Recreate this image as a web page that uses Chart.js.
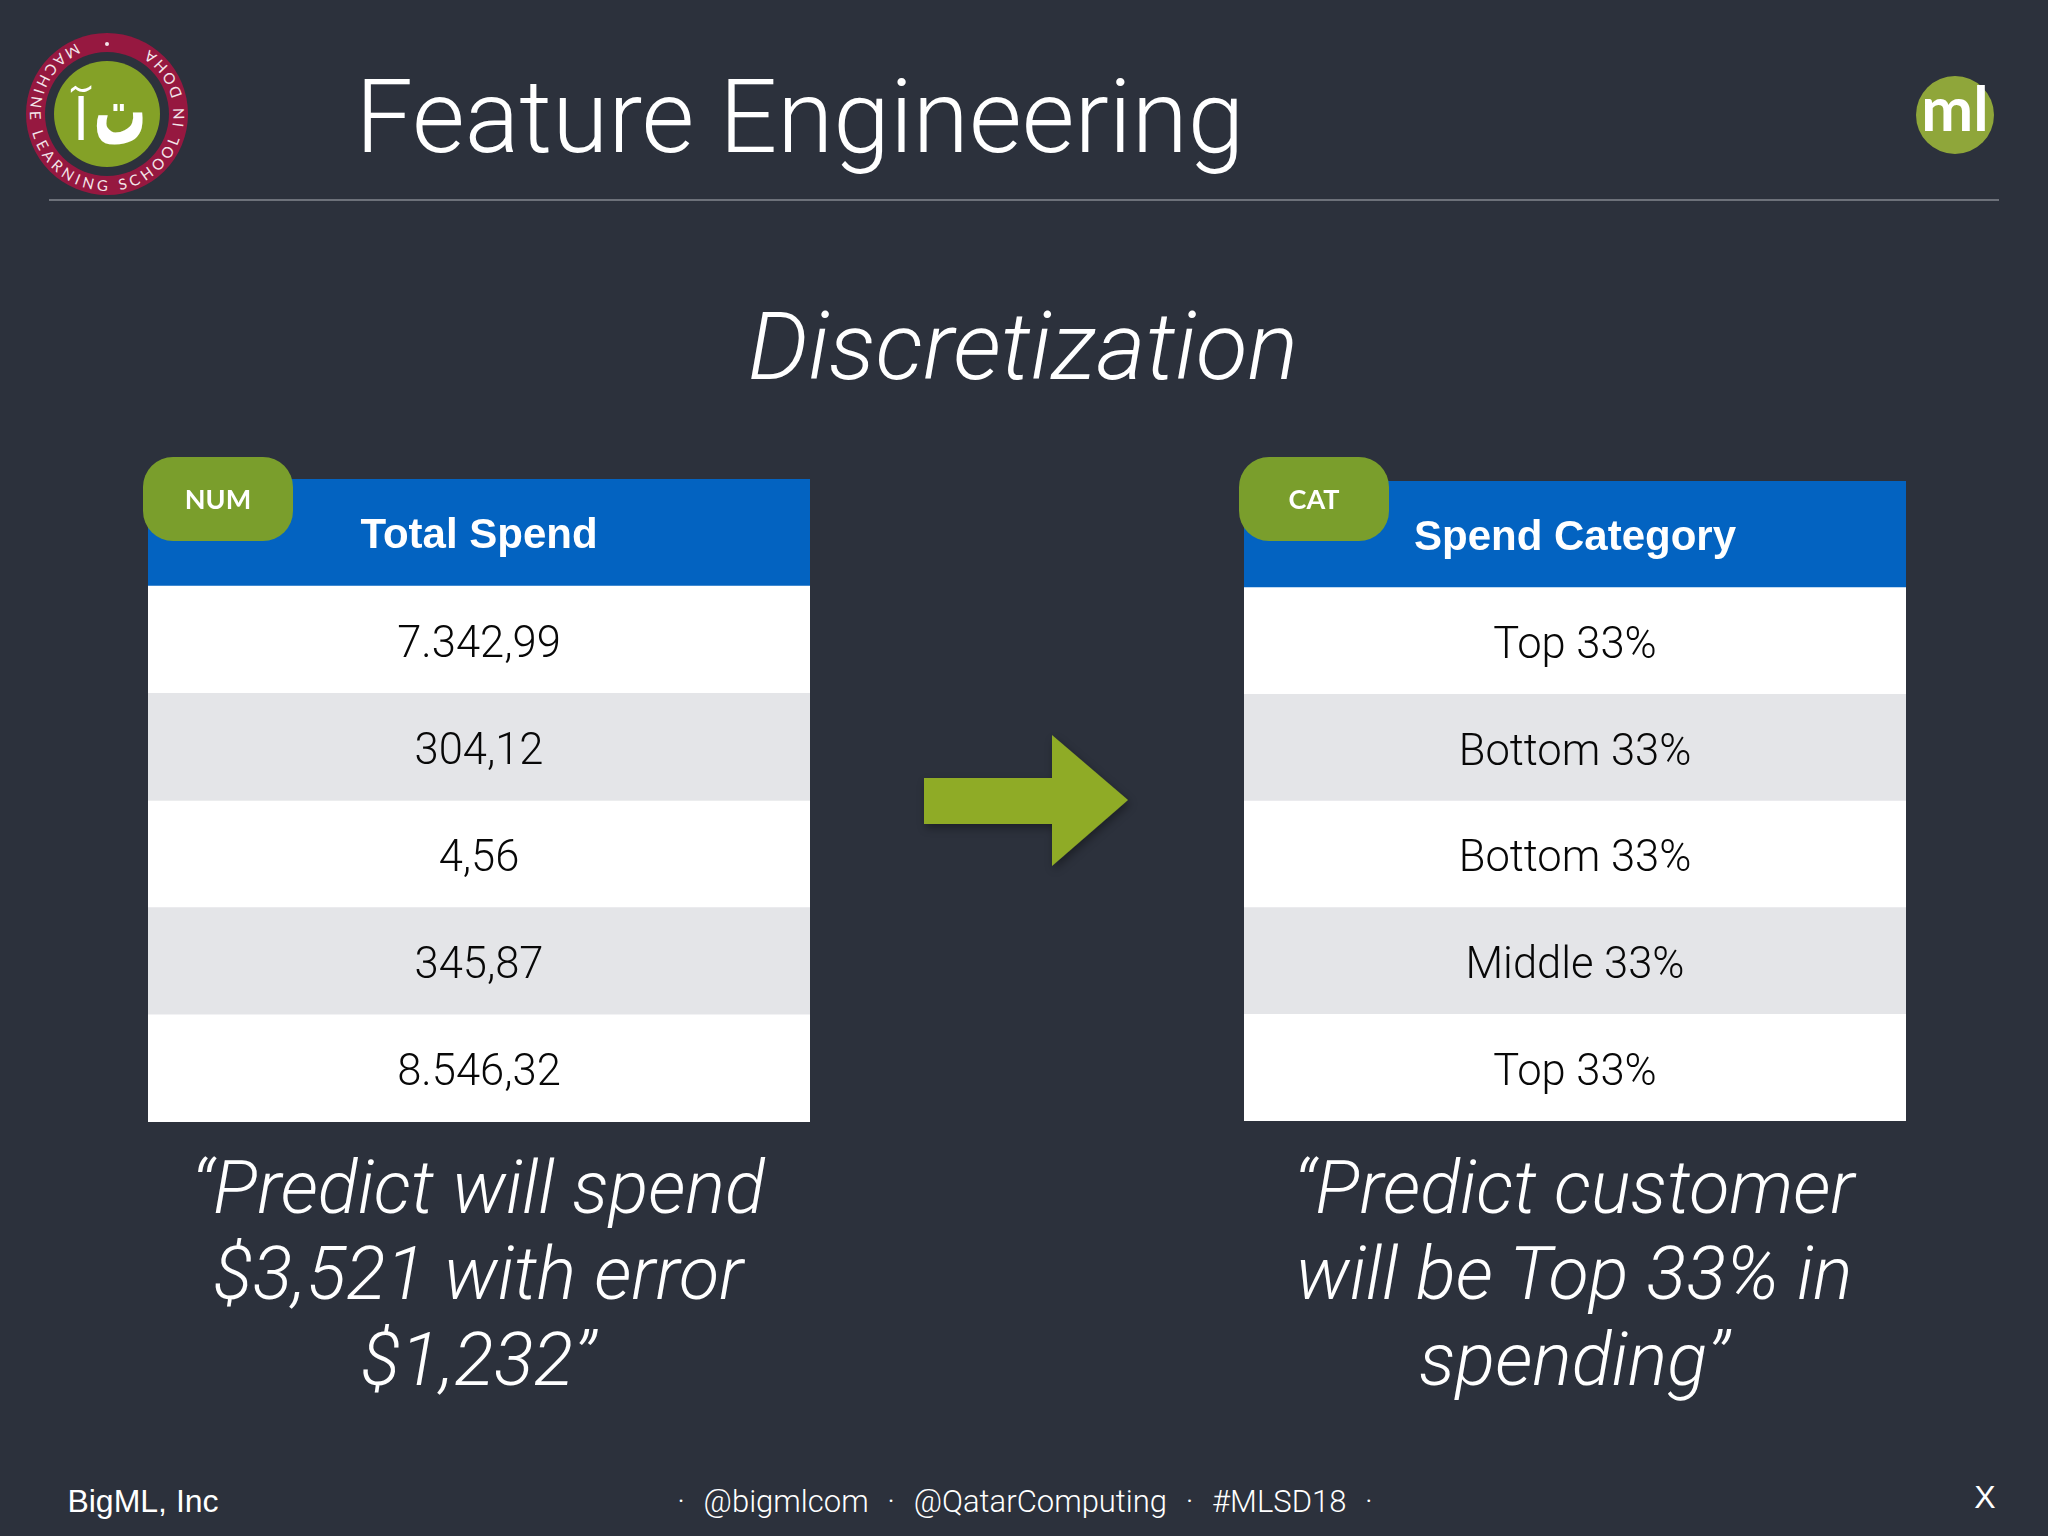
<!DOCTYPE html>
<html>
<head>
<meta charset="utf-8">
<title>Feature Engineering</title>
<script src="https://cdn.jsdelivr.net/npm/chart.js@4"></script>
<style>
html, body { margin: 0; padding: 0; width: 2048px; height: 1536px; overflow: hidden; background: #2c313c; }
.txt { position: absolute; color: #fff; white-space: nowrap; font-family: Roboto, "Liberation Sans", sans-serif; font-weight: 300; line-height: 1; }
.center { transform: translate(-50%, -50%); }
canvas { position: absolute; }
.rule { position: absolute; left: 49px; top: 199px; width: 1950px; height: 2px; background: #6d717a; }
.badge { position: absolute; width: 150px; height: 84px; top: 457px; border-radius: 30px; background: #7a9e2c; }
.badge span { position: absolute; left: 0; right: 0; top: 28px; text-align: center; color: #fff; font: 700 27px Lato, sans-serif; line-height: 1; }
svg { position: absolute; overflow: visible; }
.quote { font-style: italic; font-size: 74px; }
</style>
</head>
<body>

<svg style="left:0;top:0" width="220" height="230">
  <defs><path id="ring" d="M 107 37 A 77 77 0 1 0 107.01 37"></path></defs>
  <circle cx="107" cy="114" r="81" fill="#961840"></circle>
  <circle cx="107" cy="114" r="62" fill="#2c313c"></circle>
  <circle cx="107" cy="114" r="53" fill="#84a127"></circle>
  <text font-family="Lato, sans-serif" font-size="15" fill="#f3e6ea" letter-spacing="4.2">
    <textPath href="#ring" startOffset="32">MACHINE LEARNING SCHOOL IN DOHA</textPath>
  </text>
  <circle cx="107" cy="44" r="2" fill="#f3e6ea"></circle>
  <text x="81" y="140" text-anchor="middle" font-family="DejaVu Sans" font-size="58" fill="#fff">آ</text>
  <text transform="translate(120 144) scale(0.8 1.45)" text-anchor="middle" font-family="DejaVu Sans" font-weight="bold" font-size="66" fill="#fff">ت</text>
</svg>

<div class="txt center" style="left:800px;top:117px;font-size:102px">Feature Engineering</div>

<svg style="left:1900px;top:60px" width="110" height="110">
  <circle cx="55" cy="55" r="39" fill="#8fa63a"></circle>
  <text x="55" y="71" text-anchor="middle" font-family="Lato, sans-serif" font-weight="700" font-size="62" fill="#fff">ml</text>
</svg>

<div class="rule"></div>

<div class="txt center" style="left:1023px;top:346px;font-size:95px;font-style:italic">Discretization</div>

<canvas id="spendTable" width="662" height="643" style="left:148px;top:479px;width:662px;height:643px"></canvas>
<canvas id="categoryTable" width="662" height="640" style="left:1244px;top:481px;width:662px;height:640px"></canvas>

<div class="badge" style="left:143px"><span>NUM</span></div>
<div class="badge" style="left:1239px"><span>CAT</span></div>

<svg style="left:0;top:0" width="2048" height="1000">
  <defs><filter id="arrowShadow" x="-20%" y="-20%" width="140%" height="140%"><feDropShadow dx="2" dy="4" stdDeviation="4" flood-color="#000" flood-opacity="0.35"></feDropShadow></filter></defs>
  <polygon points="924,778 1052,778 1052,735 1128,800 1052,866 1052,824 924,824" fill="#8fab27" filter="url(#arrowShadow)"></polygon>
</svg>

<div id="leftQuote"></div>
<div id="rightQuote"></div>

<div class="txt center" style="left:143px;top:1501px;font-size:32px;font-weight:400;font-family:'Liberation Sans'">BigML, Inc</div>
<div class="txt center" style="left:1025px;top:1501px;font-size:31px;word-spacing:1.8px">·&nbsp; @bigmlcom &nbsp;·&nbsp; @QatarComputing &nbsp;·&nbsp; #MLSD18 &nbsp;·</div>
<div class="txt center" style="left:1985px;top:1497px;font-size:32px;font-family:'Liberation Sans'">X</div>

<script>
const spendHeader = 'Total Spend';
const spendValues = ['7.342,99', '304,12', '4,56', '345,87', '8.546,32'];
const categoryHeader = 'Spend Category';
const categoryValues = ['Top 33%', 'Bottom 33%', 'Bottom 33%', 'Middle 33%', 'Top 33%'];
const rowFill = [1, 1, 1, 1, 1, 1];
const rowColors = ['#0363c1', '#ffffff', '#e4e5e8', '#ffffff', '#e4e5e8', '#ffffff'];
const leftQuoteLines = ['“Predict will spend', '$3,521 with error', '$1,232”'];
const rightQuoteLines = ['“Predict customer', 'will be Top 33% in', 'spending”'];

// writes the cell texts at the row centres of the y scale
const cellText = {
    id: 'cellText',
    afterDatasetsDraw: function(chart) {
        const ctx = chart.ctx;
        const xScale = chart.scales.x;
        const yScale = chart.scales.y;
        ctx.save();
        ctx.textAlign = 'center';
        ctx.textBaseline = 'middle';
        chart.data.labels.forEach((label, i) => {
            ctx.font = i === 0 ? 'bold 42px "Liberation Sans"' : '300 43.5px Roboto';
            ctx.fillStyle = i === 0 ? '#ffffff' : '#080808';
            ctx.fillText(label, xScale.getPixelForValue(0.5), yScale.getPixelForTick(i) + (i === 0 ? 4 : 6));
        });
        ctx.restore();
    }
};

function makeTable(canvasId, labels) {
    return new Chart(document.getElementById(canvasId), {
        type: 'bar',
        data: {
            labels: labels,
            datasets: [{
                data: rowFill,
                backgroundColor: rowColors,
                borderWidth: 0,
                barPercentage: 1,
                categoryPercentage: 1
            }]
        },
        options: {
            indexAxis: 'y',
            responsive: false,
            animation: false,
            devicePixelRatio: 1,
            layout: { padding: 0 },
            plugins: { legend: { display: false }, tooltip: { enabled: false } },
            scales: {
                x: { display: false, min: 0, max: 1 },
                y: { display: false }
            }
        },
        plugins: [cellText]
    });
}

makeTable('spendTable', [spendHeader].concat(spendValues));
makeTable('categoryTable', [categoryHeader].concat(categoryValues));

function writeQuote(holderId, lines, centerX) {
    const holder = document.getElementById(holderId);
    lines.forEach((line, i) => {
        const div = document.createElement('div');
        div.className = 'txt center quote';
        div.style.left = centerX + 'px';
        div.style.top = (1188 + i * 86) + 'px';
        div.textContent = line;
        holder.appendChild(div);
    });
}
writeQuote('leftQuote', leftQuoteLines, 478);
writeQuote('rightQuote', rightQuoteLines, 1574);
</script>
</body>
</html>
